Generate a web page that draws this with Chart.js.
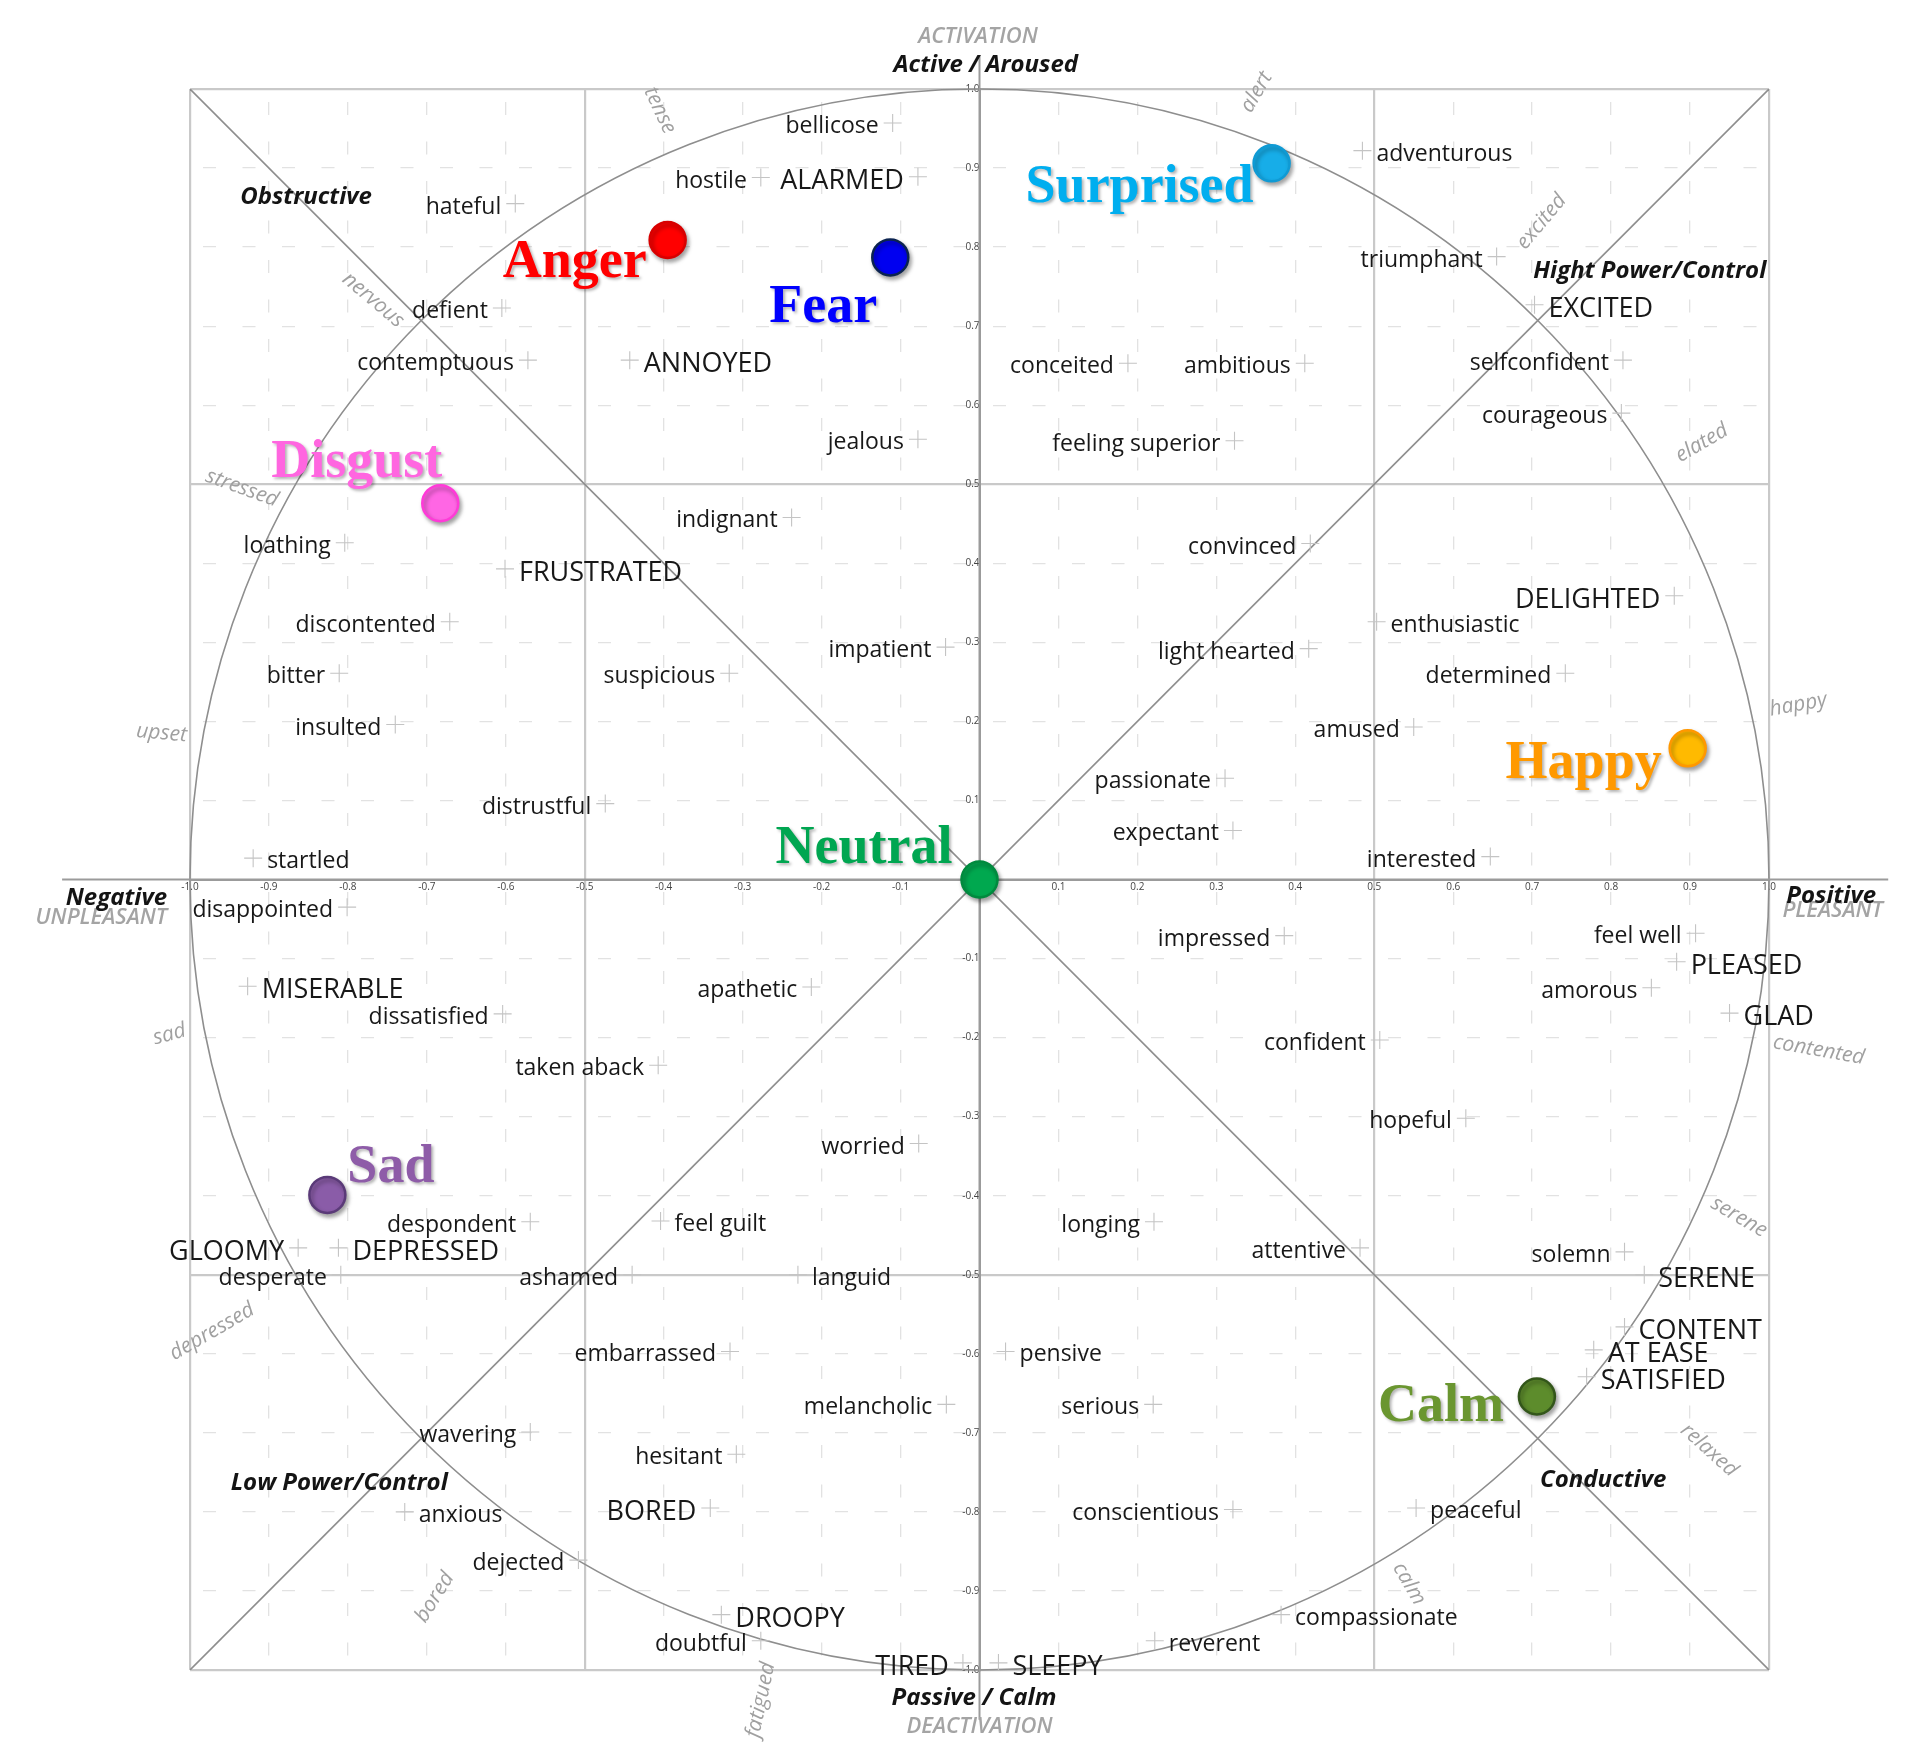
<!DOCTYPE html>
<html>
<head>
<meta charset="utf-8">
<script src="https://cdn.jsdelivr.net/npm/chart.js@4.4.1/dist/chart.umd.min.js"></script>
<style>
  html, body { margin: 0; background: #fff; }
  #wrap { width: 1918px; height: 1761px; position: relative; }
</style>
</head>
<body>
<div id="wrap"><canvas id="circumplex"></canvas></div>
<script>
// --- data ---
const tickLabels = ['-1.0', '-0.9', '-0.8', '-0.7', '-0.6', '-0.5', '-0.4', '-0.3', '-0.2', '-0.1', '',
                    '0.1', '0.2', '0.3', '0.4', '0.5', '0.6', '0.7', '0.8', '0.9', '1.0'];

const emotionNames = ['Anger', 'Fear', 'Surprised', 'Disgust', 'Neutral', 'Happy', 'Sad', 'Calm'];
const emotionValence = [-0.395, -0.113, 0.370, -0.683, 0.0, 0.897, -0.826, 0.706];
const emotionArousal = [0.809, 0.787, 0.906, 0.476, 0.0, 0.166, -0.399, -0.654];

const wordText = [
  'bellicose', 'hostile', 'ALARMED', 'hateful', 'defient', 'contemptuous', 'ANNOYED', 'jealous',
  'indignant', 'loathing', 'FRUSTRATED', 'discontented', 'impatient', 'suspicious', 'bitter', 'insulted',
  'distrustful', 'startled',
  'adventurous', 'triumphant', 'EXCITED', 'conceited', 'ambitious', 'selfconfident', 'courageous',
  'feeling superior', 'convinced', 'DELIGHTED', 'enthusiastic', 'light hearted', 'determined', 'amused',
  'passionate', 'expectant', 'interested',
  'disappointed', 'MISERABLE', 'dissatisfied', 'apathetic', 'taken aback', 'worried', 'despondent',
  'feel guilt', 'GLOOMY', 'DEPRESSED', 'desperate', 'ashamed', 'languid', 'embarrassed', 'melancholic',
  'wavering', 'hesitant', 'anxious', 'BORED', 'dejected', 'DROOPY', 'doubtful', 'TIRED',
  'SLEEPY', 'impressed', 'feel well', 'PLEASED', 'amorous', 'GLAD', 'confident', 'hopeful', 'longing',
  'attentive', 'solemn', 'SERENE', 'CONTENT', 'AT EASE', 'SATISFIED', 'pensive', 'serious',
  'conscientious', 'peaceful', 'compassionate', 'reverent'
];
const wordValence = [
  -0.110, -0.277, -0.078, -0.588, -0.605, -0.572, -0.443, -0.078,
  -0.238, -0.804, -0.601, -0.671, -0.043, -0.317, -0.811, -0.740,
  -0.474, -0.920,
  0.485, 0.655, 0.703, 0.188, 0.412, 0.815, 0.813,
  0.323, 0.419, 0.880, 0.503, 0.417, 0.742, 0.550,
  0.311, 0.321, 0.647,
  -0.801, -0.927, -0.604, -0.213, -0.407, -0.077, -0.569,
  -0.404, -0.863, -0.812, -0.809, -0.440, -0.230, -0.316, -0.042,
  -0.569, -0.308, -0.728, -0.341, -0.508, -0.327, -0.277, -0.021,
  0.024, 0.386, 0.907, 0.883, 0.851, 0.950, 0.507, 0.616, 0.221,
  0.482, 0.817, 0.842, 0.817, 0.778, 0.769, 0.033, 0.220,
  0.321, 0.553, 0.382, 0.222
];
const wordArousal = [
  0.957, 0.888, 0.889, 0.855, 0.723, 0.657, 0.657, 0.557,
  0.458, 0.426, 0.393, 0.326, 0.294, 0.261, 0.261, 0.196,
  0.096, 0.027,
  0.922, 0.788, 0.727, 0.653, 0.653, 0.657, 0.590,
  0.555, 0.425, 0.359, 0.326, 0.292, 0.261, 0.193,
  0.128, 0.062, 0.029,
  -0.035, -0.135, -0.170, -0.136, -0.235, -0.334, -0.433,
  -0.432, -0.466, -0.466, -0.500, -0.500, -0.500, -0.597, -0.664,
  -0.699, -0.727, -0.800, -0.795, -0.861, -0.930, -0.963, -0.991,
  -0.991, -0.071, -0.068, -0.104, -0.137, -0.169, -0.203, -0.302, -0.433,
  -0.466, -0.471, -0.500, -0.566, -0.595, -0.629, -0.597, -0.664,
  -0.797, -0.795, -0.930, -0.963
];
// which side of its marker the word sits on
const wordSide = [
  'L', 'L', 'L', 'L', 'L', 'L', 'R', 'L',
  'L', 'L', 'R', 'L', 'L', 'L', 'L', 'L',
  'L', 'R',
  'R', 'L', 'R', 'L', 'L', 'L', 'L',
  'L', 'L', 'L', 'R', 'L', 'L', 'L',
  'L', 'L', 'L',
  'L', 'R', 'L', 'L', 'L', 'L', 'L',
  'R', 'L', 'R', 'L', 'L', 'R', 'L', 'L',
  'L', 'L', 'R', 'L', 'L', 'R', 'L', 'L',
  'R', 'L', 'L', 'R', 'L', 'R', 'L', 'L', 'L',
  'L', 'L', 'R', 'R', 'R', 'R', 'R', 'L',
  'L', 'R', 'R', 'R'
];

// grey words around the rim, with their tilt in degrees
const rimWords = ['tense', 'alert', 'excited', 'elated', 'happy', 'contented', 'serene', 'relaxed',
                  'calm', 'fatigued', 'bored', 'depressed', 'sad', 'upset', 'stressed', 'nervous'];
const rimValence = [-0.405, 0.351, 0.712, 0.915, 1.037, 1.063, 0.962, 0.924,
                    0.544, -0.277, -0.690, -0.972, -1.026, -1.036, -0.934, -0.768];
const rimArousal = [0.973, 0.996, 0.832, 0.552, 0.221, -0.216, -0.427, -0.722,
                    -0.891, -1.038, -0.908, -0.572, -0.196, 0.185, 0.495, 0.733];
const rimTilt = [65, -60, -50, -30, -10, 10, 30, 42, 60, -78, -58, -30, -15, 5, 20, 40];

const regionNames = ['Obstructive', 'Hight Power/Control', 'Low Power/Control', 'Conductive'];
const regionValence = [-0.853, 0.849, -0.811, 0.790];
const regionArousal = [0.855, 0.761, -0.772, -0.768];

// --- styles ---
const emotionFill = ['#ff0000', '#0000f0', '#17ade8', '#ff66e4', '#00a84f', '#ffba00', '#8a5ca8', '#5d8c2c'];
const emotionEdge = ['#d80000', '#0b2350', '#0f9ad4', '#ff3ad8', '#008a3e', '#ff9800', '#5a3a78', '#33561a'];
const emotionInk = ['#ff0000', '#0000ff', '#00aeef', '#ff66e0', '#00a651', '#ff9900', '#8e5ca8', '#6a9630'];
// label anchor relative to the dot, in px
const emotionLabelPos = [
  { dx: -21, dy: 37, align: 'right' },
  { dx: -13, dy: 65, align: 'right' },
  { dx: -18, dy: 39, align: 'right' },
  { dx: 2, dy: -26, align: 'right' },
  { dx: -27, dy: -17, align: 'right' },
  { dx: -26, dy: 30, align: 'right' },
  { dx: 20, dy: -13, align: 'left' },
  { dx: -33, dy: 25, align: 'right' }
];
const axisReach = { left: -1.162, right: 1.151, top: 1.043, bottom: -1.063 };

const WORD_FONT = '"Open Sans", "Noto Sans", sans-serif';

function isMajor(v) {
  const a = Math.abs(v);
  return Math.abs(a - 0.5) < 1e-6 || Math.abs(a - 1) < 1e-6;
}

const decorPlugin = {
  id: 'decor',
  beforeDatasetsDraw(chart) {
    const { ctx, scales: { x, y } } = chart;
    const cx = x.getPixelForValue(0), cy = y.getPixelForValue(0);
    ctx.save();
    // unit circle
    ctx.strokeStyle = '#8e8e8e';
    ctx.lineWidth = 1.6;
    ctx.beginPath();
    ctx.ellipse(cx, cy, x.getPixelForValue(1) - cx, cy - y.getPixelForValue(1), 0, 0, Math.PI * 2);
    ctx.stroke();
    // axis lines run a bit past the frame
    ctx.strokeStyle = '#9b9b9b';
    ctx.lineWidth = 2;
    ctx.beginPath();
    ctx.moveTo(x.getPixelForValue(axisReach.left), cy);
    ctx.lineTo(x.getPixelForValue(axisReach.right), cy);
    ctx.moveTo(cx, y.getPixelForValue(axisReach.top));
    ctx.lineTo(cx, y.getPixelForValue(axisReach.bottom));
    ctx.stroke();
    ctx.restore();
  },
  beforeDatasetDraw(chart, args) {
    if (args.index === 0) {
      const ctx = chart.ctx;
      ctx.shadowColor = 'rgba(0,0,0,0.35)';
      ctx.shadowBlur = 4;
      ctx.shadowOffsetX = 2;
      ctx.shadowOffsetY = 3;
    }
  },
  afterDatasetDraw(chart, args) {
    if (args.index === 0) {
      const ctx = chart.ctx;
      ctx.shadowColor = 'transparent';
      ctx.shadowBlur = 0;
      ctx.shadowOffsetX = 0;
      ctx.shadowOffsetY = 0;
    }
  },
  afterDatasetsDraw(chart) {
    const { ctx, scales: { x, y } } = chart;
    ctx.save();

    // words next to their markers
    ctx.fillStyle = '#181818';
    wordText.forEach((t, i) => {
      const big = t === t.toUpperCase();
      const size = big ? 27 : 23;
      ctx.font = size + 'px ' + WORD_FONT;
      const px = x.getPixelForValue(wordValence[i]);
      const py = y.getPixelForValue(wordArousal[i]);
      const gap = 14;
      ctx.textAlign = wordSide[i] === 'L' ? 'right' : 'left';
      ctx.textBaseline = 'alphabetic';
      ctx.fillText(t, wordSide[i] === 'L' ? px - gap : px + gap, py + Math.round(size * 0.43));
    });

    // grey rim words
    ctx.fillStyle = '#a0a0a0';
    ctx.font = 'italic 21px ' + WORD_FONT;
    ctx.textAlign = 'center';
    ctx.textBaseline = 'middle';
    rimWords.forEach((t, i) => {
      ctx.save();
      ctx.translate(x.getPixelForValue(rimValence[i]), y.getPixelForValue(rimArousal[i]));
      ctx.rotate(rimTilt[i] * Math.PI / 180);
      ctx.fillText(t, 0, 0);
      ctx.restore();
    });

    // quadrant captions
    ctx.fillStyle = '#141414';
    ctx.font = 'italic bold 24px ' + WORD_FONT;
    ctx.textBaseline = 'alphabetic';
    regionNames.forEach((t, i) => {
      ctx.fillText(t, x.getPixelForValue(regionValence[i]), y.getPixelForValue(regionArousal[i]));
    });

    // axis captions
    const caption = (text, vx, vy, align, font, color) => {
      ctx.font = font;
      ctx.fillStyle = color;
      ctx.textAlign = align;
      ctx.fillText(text, x.getPixelForValue(vx), y.getPixelForValue(vy));
    };
    const greyFont = 'italic 600 22px ' + WORD_FONT;
    const darkFont = 'italic bold 24px ' + WORD_FONT;
    caption('ACTIVATION', -0.002, 1.058, 'center', greyFont, '#a4a4a4');
    caption('Active / Aroused', 0.008, 1.021, 'center', darkFont, '#141414');
    caption('Passive / Calm', -0.007, -1.044, 'center', darkFont, '#141414');
    caption('DEACTIVATION', 0.0, -1.080, 'center', greyFont, '#a4a4a4');
    caption('UNPLEASANT', -1.029, -0.056, 'right', greyFont, '#a4a4a4');
    caption('Negative', -1.029, -0.032, 'right', darkFont, '#141414');
    caption('PLEASANT', 1.017, -0.047, 'left', greyFont, '#a4a4a4');
    caption('Positive', 1.022, -0.030, 'left', darkFont, '#141414');

    // emotion names
    ctx.font = 'bold 54px "Liberation Serif", "Times New Roman", serif';
    ctx.shadowColor = 'rgba(0,0,0,0.3)';
    ctx.shadowBlur = 3;
    ctx.shadowOffsetX = 2;
    ctx.shadowOffsetY = 2;
    emotionNames.forEach((t, i) => {
      const p = emotionLabelPos[i];
      ctx.fillStyle = emotionInk[i];
      ctx.textAlign = p.align;
      ctx.fillText(t, x.getPixelForValue(emotionValence[i]) + p.dx, y.getPixelForValue(emotionArousal[i]) + p.dy);
    });
    ctx.restore();
  }
};

function axisOptions(pos) {
  return {
    type: 'linear',
    min: -1,
    max: 1,
    position: pos,
    ticks: {
      stepSize: 0.1,
      autoSkip: false,
      maxRotation: 0,
      padding: 2,
      color: '#444',
      font: { size: 10, family: WORD_FONT },
      callback: (v, i) => tickLabels[i] ?? ''
    },
    grid: {
      drawTicks: false,
      color: c => isMajor(c.tick.value) ? '#c9c9c9' : '#e2e2e2',
      lineWidth: c => isMajor(c.tick.value) ? 2.2 : 1.3
    },
    border: {
      display: true,
      color: '#9b9b9b',
      width: 2,
      dash: c => (c.tick && isMajor(c.tick.value)) ? [] : [13, 26.5],
      dashOffset: -13
    }
  };
}

function drawChart() {
  const ctx = document.getElementById('circumplex').getContext('2d');
  new Chart(ctx, {
    type: 'scatter',
    data: {
      datasets: [
        {
          label: 'Emotions',
          data: emotionNames.map((n, i) => ({ x: emotionValence[i], y: emotionArousal[i] })),
          pointRadius: 18,
          backgroundColor: emotionFill,
          borderColor: emotionEdge,
          borderWidth: 2.5
        },
        {
          label: 'Words',
          data: wordText.map((w, i) => ({ x: wordValence[i], y: wordArousal[i] })),
          pointStyle: 'cross',
          pointRadius: 9,
          borderColor: '#c4c4c4',
          borderWidth: 1.1
        },
        {
          label: 'diag-a',
          data: [{ x: -1, y: 1 }, { x: 1, y: -1 }],
          showLine: true,
          pointRadius: 0,
          borderColor: '#8e8e8e',
          borderWidth: 1.6
        },
        {
          label: 'diag-b',
          data: [{ x: -1, y: -1 }, { x: 1, y: 1 }],
          showLine: true,
          pointRadius: 0,
          borderColor: '#8e8e8e',
          borderWidth: 1.6
        }
      ]
    },
    options: {
      responsive: true,
      maintainAspectRatio: false,
      animation: false,
      events: [],
      layout: { padding: { left: 190, top: 89, right: 149, bottom: 91 } },
      plugins: { legend: { display: false }, tooltip: { enabled: false } },
      scales: {
        x: axisOptions({ y: 0 }),
        y: axisOptions({ x: 0 })
      }
    },
    plugins: [decorPlugin]
  });
}

Promise.all([
  document.fonts.load('23px "Open Sans"'),
  document.fonts.load('italic 21px "Open Sans"'),
  document.fonts.load('italic bold 24px "Open Sans"'),
  document.fonts.load('bold 54px "Liberation Serif"')
]).catch(() => {}).then(drawChart);
</script>
</body>
</html>
